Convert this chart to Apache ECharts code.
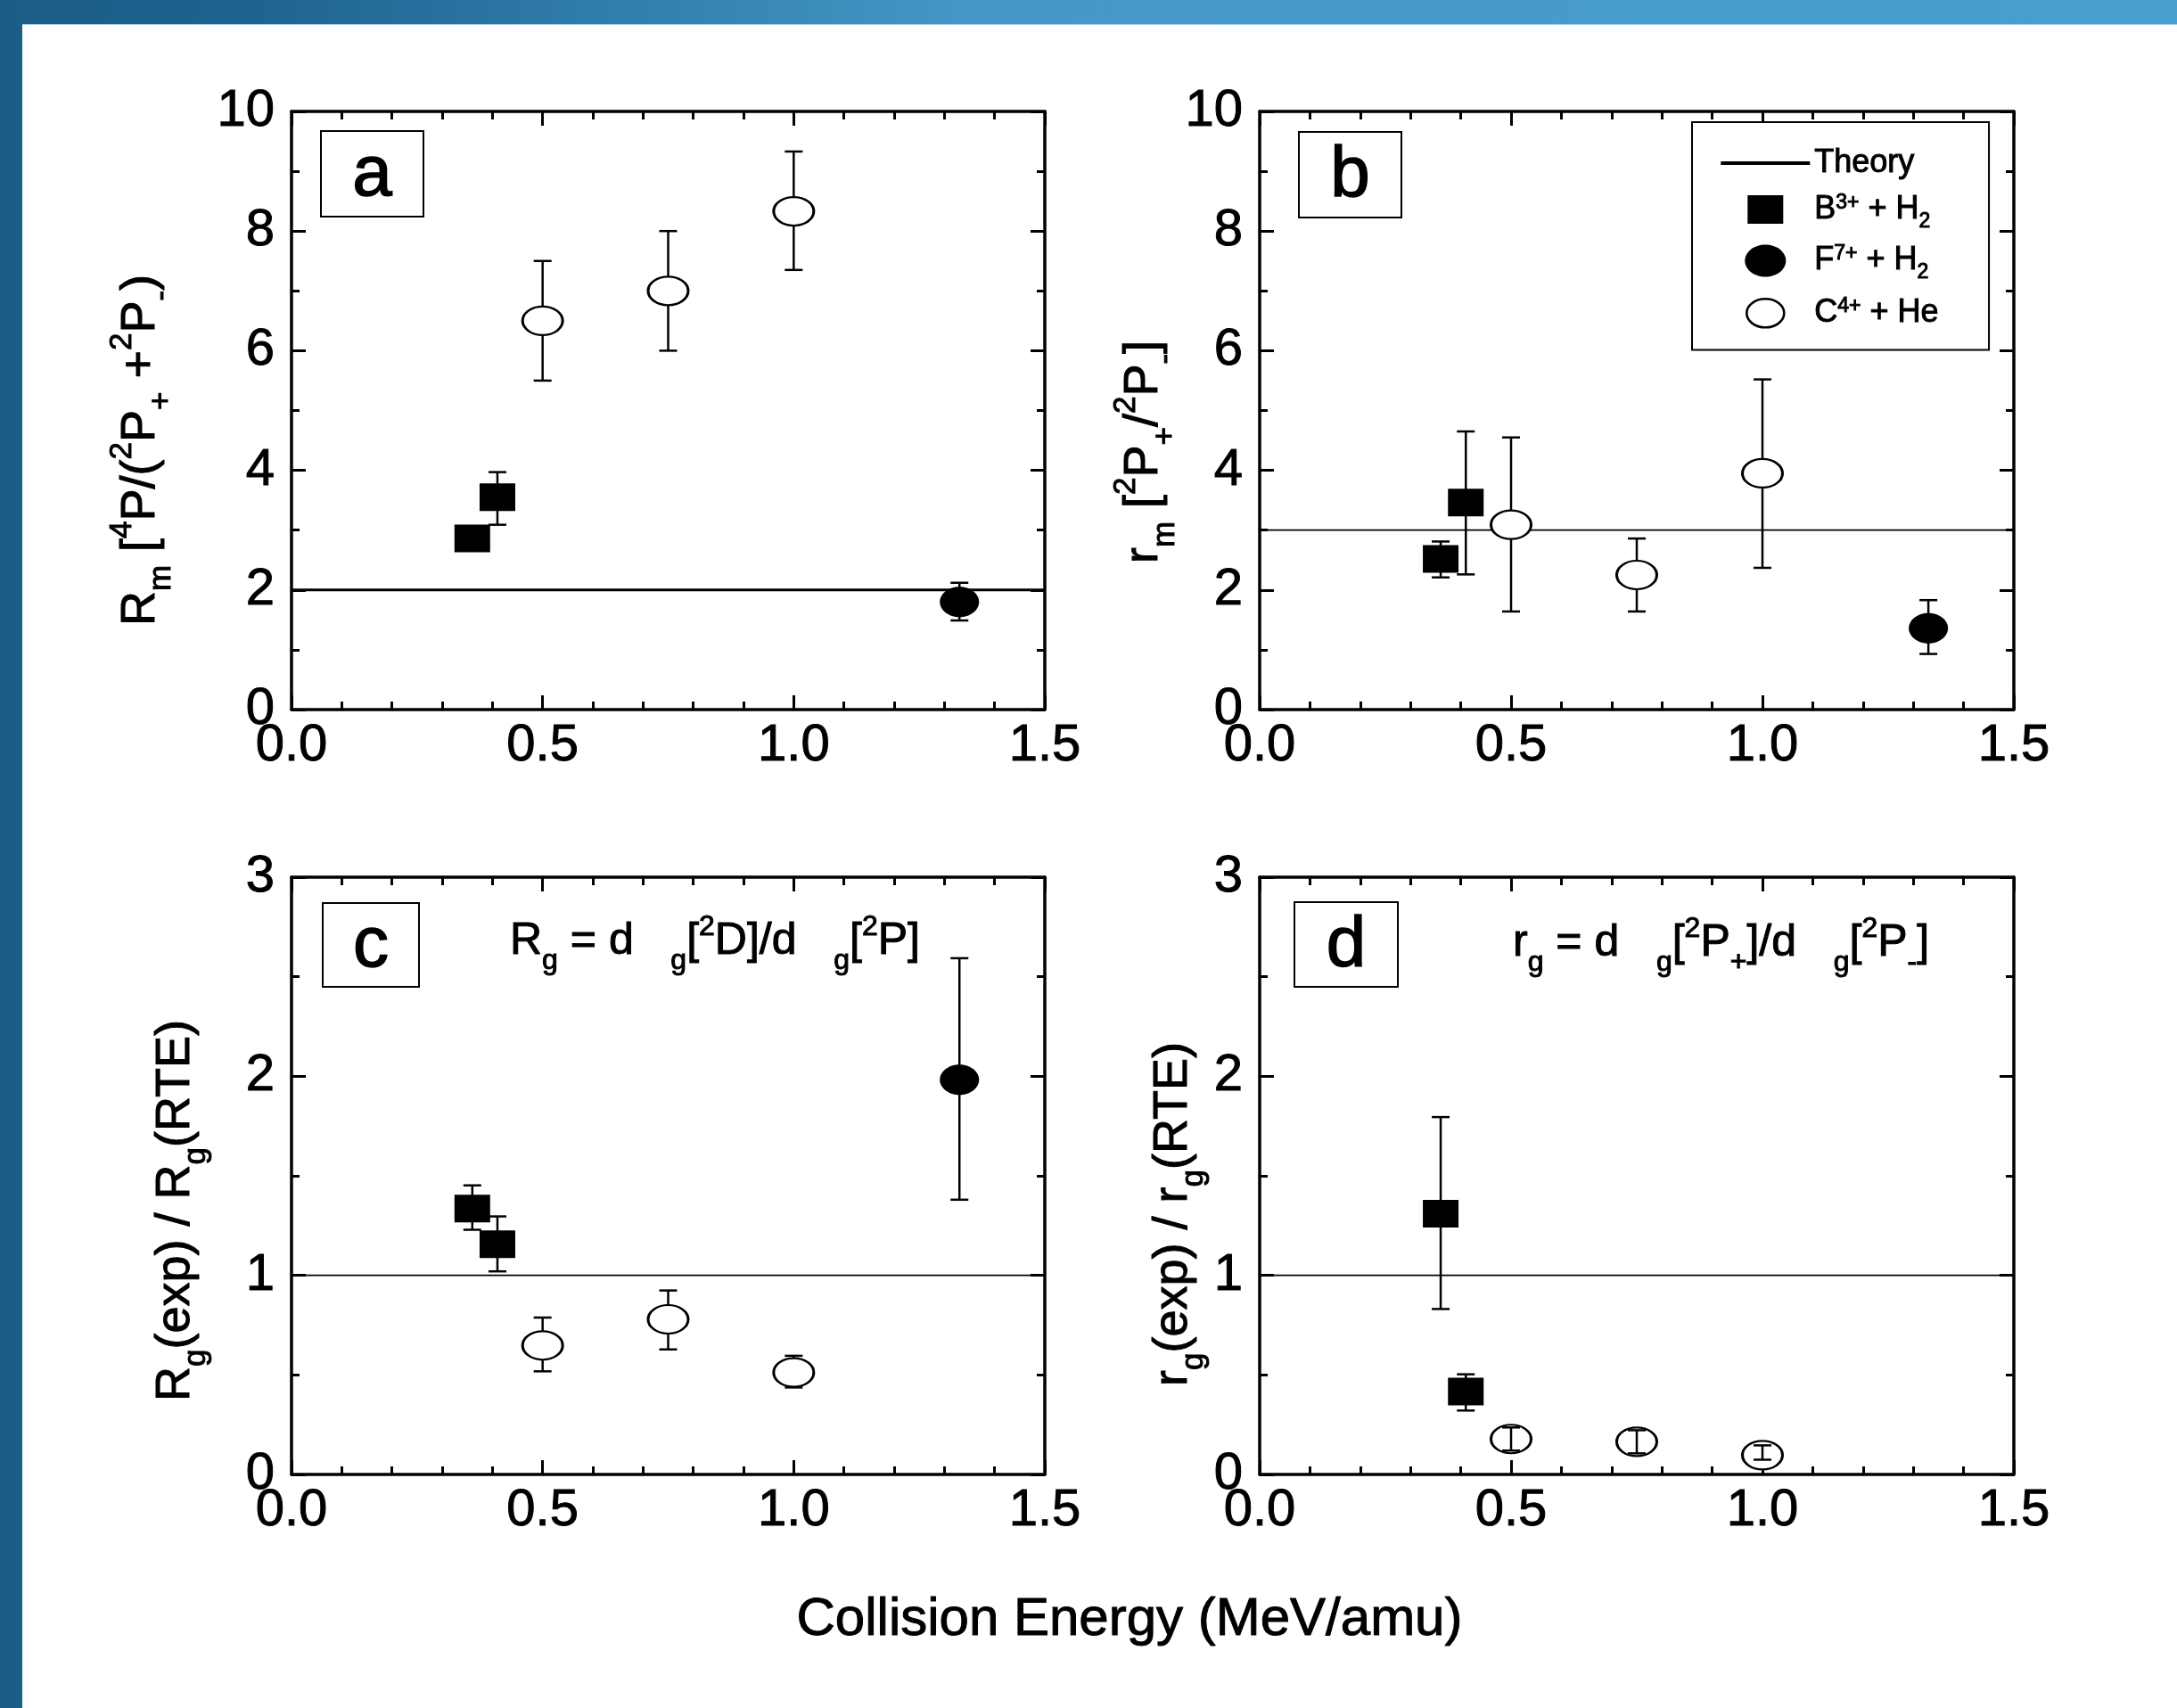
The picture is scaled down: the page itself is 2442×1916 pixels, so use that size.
<!DOCTYPE html>
<html>
<head>
<meta charset="utf-8">
<script src="https://cdn.jsdelivr.net/npm/echarts@6/dist/echarts.min.js"></script>
<style>
html, body { margin: 0; padding: 0; background: #ffffff; }
#chart { width: 2442px; height: 1916px; }
</style>
</head>
<body>
<div id="chart"></div>
<script>
// ===================== DATA =====================
const xTickLabels = ['0.0', '0.5', '1.0', '1.5'];
const theoryX = [0, 1.5];
const theoryA = 2, theoryB = 3, theoryC = 1, theoryD = 1;

// Panel a : R_m
const aB3x = [0.36, 0.41], aB3y = [2.86, 3.55], aB3lo = [null, 3.09], aB3hi = [null, 3.97];
const aF7x = [1.33], aF7y = [1.80], aF7lo = [1.49], aF7hi = [2.12];
const aC4x = [0.5, 0.75, 1.0], aC4y = [6.5, 7.0, 8.33], aC4lo = [5.5, 6.0, 7.35], aC4hi = [7.5, 8.0, 9.33];

// Panel b : r_m
const bB3x = [0.36, 0.41], bB3y = [2.52, 3.46], bB3lo = [2.21, 2.26], bB3hi = [2.81, 4.65];
const bF7x = [1.33], bF7y = [1.36], bF7lo = [0.93], bF7hi = [1.83];
const bC4x = [0.5, 0.75, 1.0], bC4y = [3.09, 2.25, 3.95], bC4lo = [1.64, 1.64, 2.37], bC4hi = [4.55, 2.86, 5.52];

// Panel c : R_g(exp)/R_g(RTE)
const cB3x = [0.36, 0.41], cB3y = [1.336, 1.156], cB3lo = [1.229, 1.02], cB3hi = [1.452, 1.296];
const cF7x = [1.33], cF7y = [1.983], cF7lo = [1.38], cF7hi = [2.593];
const cC4x = [0.5, 0.75, 1.0], cC4y = [0.648, 0.779, 0.512], cC4lo = [0.518, 0.628, 0.437], cC4hi = [0.788, 0.924, 0.596];

// Panel d : r_g(exp)/r_g(RTE)
const dB3x = [0.36, 0.41], dB3y = [1.31, 0.416], dB3lo = [0.831, 0.321], dB3hi = [1.795, 0.503];
const dC4x = [0.5, 0.75, 1.0], dC4y = [0.178, 0.164, 0.097], dC4lo = [0.12, 0.106, 0.074], dC4hi = [0.236, 0.222, 0.146];

// ===================== STYLE / LAYOUT =====================
const FONT = "'Liberation Sans', Arial, Helvetica, sans-serif";
const BLACK = '#000000';
const TB = 1; // text outline width (heavier glyphs like the reference)

function ellipse(cx, cy, rx, ry) {
  const k = 0.5523;
  return 'M' + (cx - rx) + ',' + cy +
    ' C' + (cx - rx) + ',' + (cy - k * ry) + ' ' + (cx - k * rx) + ',' + (cy - ry) + ' ' + cx + ',' + (cy - ry) +
    ' C' + (cx + k * rx) + ',' + (cy - ry) + ' ' + (cx + rx) + ',' + (cy - k * ry) + ' ' + (cx + rx) + ',' + cy +
    ' C' + (cx + rx) + ',' + (cy + k * ry) + ' ' + (cx + k * rx) + ',' + (cy + ry) + ' ' + cx + ',' + (cy + ry) +
    ' C' + (cx - k * rx) + ',' + (cy + ry) + ' ' + (cx - rx) + ',' + (cy + k * ry) + ' ' + (cx - rx) + ',' + cy + ' Z';
}
const SYM_ELLIPSE = 'path://' + ellipse(50, 50, 50, 50);
const ICON_PAD = 'M0,0 M100,40 ';
const ICON_RECT = 'path://' + ICON_PAD + 'M30,4 L70,4 L70,36 L30,36 Z';
const ICON_ELL_F = 'path://' + ICON_PAD + ellipse(50, 20, 23, 18);
const ICON_ELL_O = 'path://' + ICON_PAD + ellipse(50, 20, 21, 16);

const groupStyles = {
  'B3+ + H2': { symbol: 'rect', size: [40, 31], color: BLACK, border: 0 },
  'F7+ + H2': { symbol: SYM_ELLIPSE, size: [44, 34], color: BLACK, border: 0 },
  'C4+ + He': { symbol: SYM_ELLIPSE, size: [45, 32], color: '#ffffff', border: 2.6 }
};

const panels = [
  { grid: { left: 327, top: 125, width: 845, height: 671 }, ymax: 10, yint: 2, theory: theoryA, lw: 3, barZ: 2,
    name: '{n|R}{sub|m}{n| [}{sup|4}{n|P/(}{sup|2}{n|P}{sub|+}{n| +}{sup|2}{n|P}{sub|-}{n|)}',
    gap: 128, shift: 89,
    groups: [['B3+ + H2', aB3x, aB3y, aB3lo, aB3hi], ['F7+ + H2', aF7x, aF7y, aF7lo, aF7hi], ['C4+ + He', aC4x, aC4y, aC4lo, aC4hi]] },
  { grid: { left: 1413, top: 125, width: 846, height: 671 }, ymax: 10, yint: 2, theory: theoryB, lw: 1.8, barZ: 2,
    name: '{n|r}{sub|m}{n| [}{sup|2}{n|P}{sub|+}{n|/}{sup|2}{n|P}{sub|-}{n|]}',
    gap: 76, shift: 93,
    groups: [['B3+ + H2', bB3x, bB3y, bB3lo, bB3hi], ['F7+ + H2', bF7x, bF7y, bF7lo, bF7hi], ['C4+ + He', bC4x, bC4y, bC4lo, bC4hi]] },
  { grid: { left: 327, top: 984, width: 845, height: 670 }, ymax: 3, yint: 1, theory: theoryC, lw: 1.8, barZ: 2,
    name: '{n|R}{sub|g}{n|(exp) / R}{sub|g}{n|(RTE)}',
    gap: 89, shift: 78,
    groups: [['B3+ + H2', cB3x, cB3y, cB3lo, cB3hi], ['F7+ + H2', cF7x, cF7y, cF7lo, cF7hi], ['C4+ + He', cC4x, cC4y, cC4lo, cC4hi]] },
  { grid: { left: 1413, top: 984, width: 846, height: 670 }, ymax: 3, yint: 1, theory: theoryD, lw: 1.8, barZ: 4,
    name: '{n|r}{sub|g}{n|(exp) / r}{sub|g}{n|(RTE)}',
    gap: 52, shift: 86,
    groups: [['B3+ + H2', dB3x, dB3y, dB3lo, dB3hi], ['C4+ + He', dC4x, dC4y, dC4lo, dC4hi]] }
];

function tok(size, extra) {
  return Object.assign({ fontSize: size, fontFamily: FONT, color: BLACK, textBorderColor: BLACK, textBorderWidth: TB }, extra || {});
}
const titleRich = {
  n:   tok(54, { lineHeight: 62 }),
  sub: tok(35, { lineHeight: 82, verticalAlign: 'bottom' }),
  sup: tok(35, { verticalAlign: 'top', padding: [3, 0, 0, 0] })
};

const axisLineStyle = { color: BLACK, width: 3.5 };
const tickLabelStyle = { fontSize: 58, fontFamily: FONT, color: BLACK, textBorderColor: BLACK, textBorderWidth: TB };

function xAxisDef(i, top) {
  return {
    type: 'value', gridIndex: i, min: 0, max: 1.5, interval: 0.5,
    position: top ? 'top' : 'bottom',
    axisLine: { show: true, onZero: false, lineStyle: axisLineStyle },
    axisTick: { show: true, inside: true, length: 16, lineStyle: { color: BLACK, width: 3 } },
    minorTick: { show: true, splitNumber: 5, length: 9, lineStyle: { color: BLACK, width: 3 } },
    splitLine: { show: false }, minorSplitLine: { show: false },
    axisLabel: Object.assign({
      show: !top, margin: 12, showMinLabel: true, showMaxLabel: true,
      formatter: function (v) { return xTickLabels[Math.round(v / 0.5)]; }
    }, tickLabelStyle)
  };
}
function yAxisDef(i, p, right) {
  const d = {
    type: 'value', gridIndex: i, min: 0, max: p.ymax, interval: p.yint,
    position: right ? 'right' : 'left',
    axisLine: { show: true, onZero: false, lineStyle: axisLineStyle },
    axisTick: { show: true, inside: true, length: 16, lineStyle: { color: BLACK, width: 3 } },
    minorTick: { show: true, splitNumber: 2, length: 9, lineStyle: { color: BLACK, width: 3 } },
    splitLine: { show: false }, minorSplitLine: { show: false },
    axisLabel: Object.assign({ show: !right, margin: 19, showMinLabel: true, showMaxLabel: true }, tickLabelStyle)
  };
  if (!right) {
    d.name = p.name;
    d.nameLocation = 'middle';
    d.nameRotate = 90;
    d.nameGap = p.gap;
    d.nameTextStyle = { fontSize: 54, fontFamily: FONT, color: BLACK, padding: [0, p.shift, 0, 0], rich: titleRich };
  }
  return d;
}

function errRender(params, api) {
  const x = api.value(0), lo = api.value(1), hi = api.value(2);
  const a = api.coord([x, lo]), b = api.coord([x, hi]);
  const cap = 10;
  const st = { stroke: BLACK, lineWidth: 2.5, fill: null };
  return {
    type: 'group',
    children: [
      { type: 'line', shape: { x1: a[0], y1: a[1], x2: b[0], y2: b[1] }, style: st },
      { type: 'line', shape: { x1: a[0] - cap, y1: a[1], x2: a[0] + cap, y2: a[1] }, style: st },
      { type: 'line', shape: { x1: b[0] - cap, y1: b[1], x2: b[0] + cap, y2: b[1] }, style: st }
    ]
  };
}

const grids = [], xAxes = [], yAxes = [], series = [];
panels.forEach(function (p, i) {
  grids.push(Object.assign({ outerBoundsMode: 'none', containLabel: false }, p.grid));
  xAxes.push(xAxisDef(i, false));
  xAxes.push(xAxisDef(i, true));
  yAxes.push(yAxisDef(i, p, false));
  yAxes.push(yAxisDef(i, p, true));
  const xi = 2 * i, yi = 2 * i;
  series.push({
    name: 'Theory', type: 'line', xAxisIndex: xi, yAxisIndex: yi, z: 1,
    data: theoryX.map(function (x) { return [x, p.theory]; }),
    symbol: 'none', lineStyle: { color: BLACK, width: p.lw }, itemStyle: { color: BLACK },
    silent: true
  });
  p.groups.forEach(function (g) {
    const name = g[0], xs = g[1], ys = g[2], los = g[3], his = g[4];
    const gs = groupStyles[name];
    series.push({
      name: name, type: 'scatter', xAxisIndex: xi, yAxisIndex: yi, z: 3,
      data: xs.map(function (x, k) { return [x, ys[k]]; }),
      symbol: gs.symbol, symbolSize: gs.size,
      itemStyle: { color: gs.color, borderColor: BLACK, borderWidth: gs.border, opacity: 1 },
      silent: true
    });
    const errData = xs.map(function (x, k) { return [x, los[k], his[k]]; })
      .filter(function (d) { return d[1] != null && d[2] != null; });
    if (errData.length) {
      series.push({
        name: name + ' error', type: 'custom', xAxisIndex: xi, yAxisIndex: yi, z: p.barZ,
        renderItem: errRender, data: errData, encode: { x: 0, y: [1, 2] }, silent: true
      });
    }
  });
});

const legendText = {
  'Theory': '{n|Theory}',
  'B3+ + H2': '{n|B}{sup|3+}{n| + H}{sub|2}',
  'F7+ + H2': '{n|F}{sup|7+}{n| + H}{sub|2}',
  'C4+ + He': '{n|C}{sup|4+}{n| + He}'
};

const boxes = [
  { t: 'a', x: 360, y: 147, w: 115, h: 96 },
  { t: 'b', x: 1457, y: 148, w: 115, h: 96 },
  { t: 'c', x: 362, y: 1013, w: 108, h: 94 },
  { t: 'd', x: 1452, y: 1012, w: 116, h: 95 }
];
function ztok(size, extra) {
  return Object.assign({ fontSize: size, fontFamily: FONT, fill: BLACK, stroke: BLACK, lineWidth: TB }, extra || {});
}
const annRich = {
  n:   ztok(50, { lineHeight: 60 }),
  sub: ztok(32, { lineHeight: 76, verticalAlign: 'bottom' }),
  sup: ztok(32, { verticalAlign: 'top', padding: [6, 0, 0, 0] })
};
const annotations = [
  { x: 572, y: 1056, text: '{n|R}{sub|g}{n| = d   }{sub|g}{n|[}{sup|2}{n|D]/d   }{sub|g}{n|[}{sup|2}{n|P]}' },
  { x: 1697, y: 1058, text: '{n|r}{sub|g}{n| = d   }{sub|g}{n|[}{sup|2}{n|P}{sub|+}{n|]/d   }{sub|g}{n|[}{sup|2}{n|P}{sub|-}{n|]}' }
];

const graphics = [
  { type: 'rect', z: 0, shape: { x: 0, y: 0, width: 2442, height: 27 },
    style: { fill: { type: 'linear', x: 0, y: 0, x2: 1, y2: 0, colorStops: [
      { offset: 0, color: '#1a5d86' }, { offset: 0.12, color: '#1e6490' },
      { offset: 0.45, color: '#4598c8' }, { offset: 1, color: '#489fce' } ] } } },
  { type: 'rect', z: 0, shape: { x: 0, y: 27, width: 2442, height: 1 }, style: { fill: '#a9d1ea' } },
  { type: 'rect', z: 0, shape: { x: 0, y: 0, width: 25, height: 1916 }, style: { fill: '#1a5d86' } }
];
boxes.forEach(function (b) {
  graphics.push({ type: 'rect', z: 10, shape: { x: b.x, y: b.y, width: b.w, height: b.h },
    style: { fill: '#ffffff', stroke: BLACK, lineWidth: 2 } });
  graphics.push({ type: 'text', z: 11, x: b.x + b.w / 2, y: b.y + b.h / 2 + 2,
    style: { text: b.t, fontSize: 80, fontFamily: FONT, fill: BLACK, stroke: BLACK, lineWidth: 1.5,
      align: 'center', verticalAlign: 'middle' } });
});
annotations.forEach(function (a) {
  graphics.push({ type: 'text', z: 11, x: a.x, y: a.y,
    style: { text: a.text, rich: annRich, fontSize: 50, fontFamily: FONT, fill: BLACK, align: 'left', verticalAlign: 'middle' } });
});

const option = {
  backgroundColor: '#ffffff',
  animation: false,
  title: {
    text: 'Collision Energy (MeV/amu)', left: 1262, top: 1778, textAlign: 'center',
    textStyle: { fontSize: 60, fontFamily: FONT, fontWeight: 'normal', color: BLACK, lineHeight: 68,
      textBorderColor: BLACK, textBorderWidth: TB }
  },
  legend: {
    orient: 'vertical', left: 1898, top: 137, padding: [26, 56, 20, 31],
    itemWidth: 100, itemHeight: 40, itemGap: 12,
    borderColor: BLACK, borderWidth: 2, backgroundColor: '#ffffff',
    selectedMode: false, z: 12,
    textStyle: {
      fontSize: 36, fontFamily: FONT, color: BLACK,
      rich: {
        n:   tok(36, { lineHeight: 50 }),
        sub: tok(23, { lineHeight: 50, verticalAlign: 'bottom' }),
        sup: tok(23, { verticalAlign: 'top', padding: [6, 0, 0, 0] })
      }
    },
    formatter: function (name) { return legendText[name]; },
    data: [
      { name: 'Theory', icon: 'path://M0,0 M100,40 M0,18 L100,18 L100,22 L0,22 Z', itemStyle: { color: BLACK, borderWidth: 0 } },
      { name: 'B3+ + H2', icon: ICON_RECT, itemStyle: { color: BLACK, borderWidth: 0 } },
      { name: 'F7+ + H2', icon: ICON_ELL_F, itemStyle: { color: BLACK, borderWidth: 0 } },
      { name: 'C4+ + He', icon: ICON_ELL_O, itemStyle: { color: '#ffffff', borderColor: BLACK, borderWidth: 2.6 } }
    ]
  },
  grid: grids,
  xAxis: xAxes,
  yAxis: yAxes,
  series: series,
  graphic: { elements: graphics }
};

const chart = echarts.init(document.getElementById('chart'), null, { renderer: 'canvas' });
chart.setOption(option);
</script>
</body>
</html>
